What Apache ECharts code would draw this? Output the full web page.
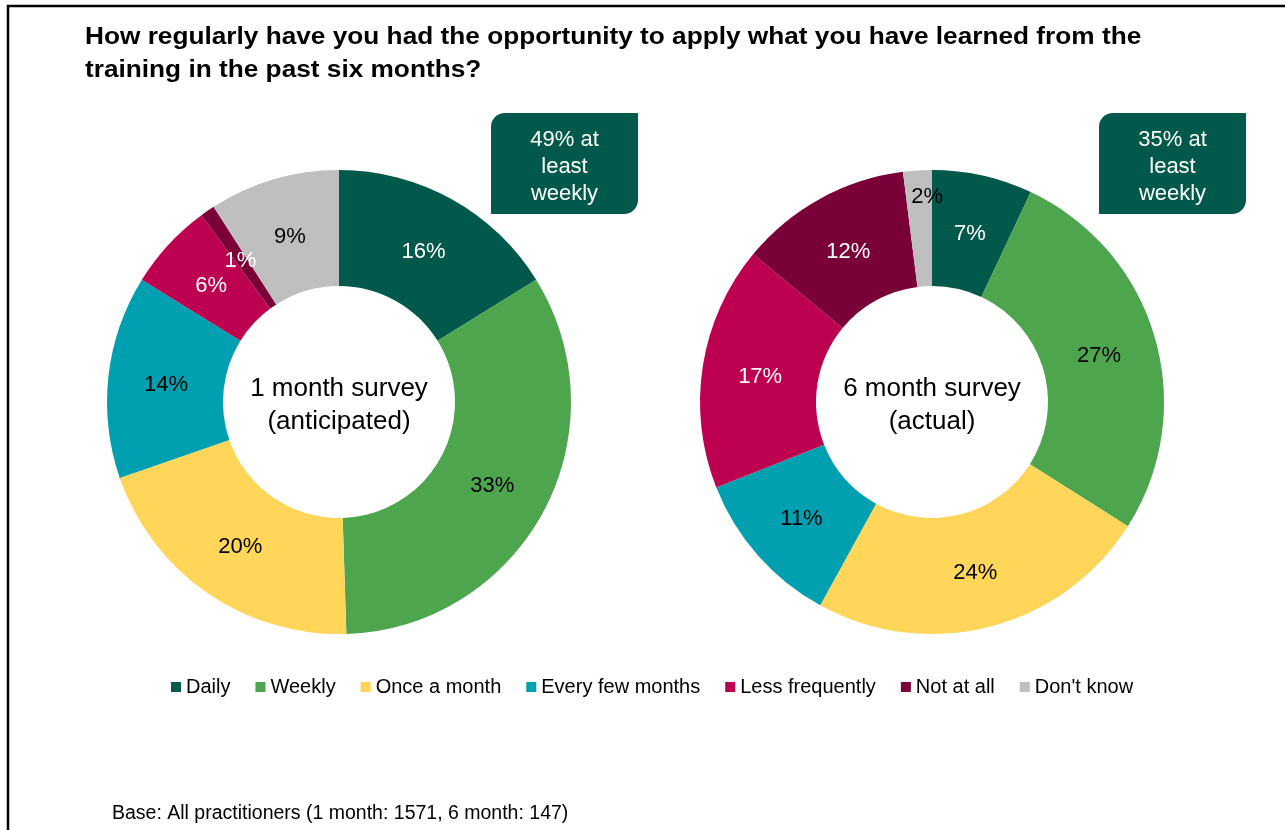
<!DOCTYPE html>
<html>
<head>
<meta charset="utf-8">
<script src="https://cdn.jsdelivr.net/npm/echarts@6/dist/echarts.min.js"></script>
<style>
  html, body { margin: 0; padding: 0; background: #fff; }
  #chart { width: 1285px; height: 830px; }
</style>
</head>
<body>
<div id="chart"></div>
<script>
// Response categories (shared by both surveys)
const categories = ['Daily', 'Weekly', 'Once a month', 'Every few months', 'Less frequently', 'Not at all', "Don't know"];

// Percent of practitioners per category
const oneMonthValues = [16, 33, 20, 14, 6, 1, 9];
const sixMonthValues = [7, 27, 24, 11, 17, 12, 2];

// Centre labels and the "at least weekly" call-outs
const surveyNames = ['1 month survey\n(anticipated)', '6 month survey\n(actual)'];
const calloutTexts = ['49% at\nleast\nweekly', '35% at\nleast\nweekly'];

const titleText = 'How regularly have you had the opportunity to apply what you have learned from the\ntraining in the past six months?';
const baseText = 'Base: All practitioners (1 month: 1571, 6 month: 147)';

// Palette
const sliceColors = ['#00594A', '#4DA64D', '#FFD55A', '#00A0B0', '#BE0050', '#7A0038', '#BFBFBF'];
const labelColors = ['#ffffff', '#000000', '#000000', '#000000', '#ffffff', '#ffffff', '#000000'];
const calloutColor = '#00594A';
const FONT = 'Liberation Sans, Arial, sans-serif';

const CY = 402;
const R_IN = 116;
const R_OUT = 232;

function buildData(values) {
  return values.map((v, i) => ({
    name: categories[i],
    value: v,
    itemStyle: { color: sliceColors[i] },
    label: { color: labelColors[i] }
  }));
}

// Pull labels slightly toward the hole; small slices can get an extra nudge
function donut(values, cx, nudges) {
  return {
    type: 'pie',
    center: [cx, CY],
    radius: [R_IN, R_OUT],
    startAngle: 90,
    clockwise: true,
    avoidLabelOverlap: false,
    silent: true,
    animation: false,
    label: {
      show: true,
      position: 'inside',
      formatter: '{c}%',
      fontFamily: FONT,
      fontSize: 22
    },
    labelLine: { show: false },
    labelLayout: function (params) {
      const r = params.labelRect;
      const lx = r.x + r.width / 2 - cx;
      const ly = r.y + r.height / 2 - CY;
      const d = Math.sqrt(lx * lx + ly * ly) || 1;
      const extra = (nudges && nudges[params.dataIndex]) || [0, 0];
      return {
        dx: -3 * lx / d + extra[0],
        dy: -3 * ly / d + 2 + extra[1]
      };
    },
    emphasis: { disabled: true },
    data: buildData(values)
  };
}

function callout(x, text) {
  return {
    type: 'group',
    left: x,
    top: 113,
    children: [
      {
        type: 'rect',
        shape: { x: 0, y: 0, width: 147, height: 101, r: [14, 0, 14, 0] },
        style: { fill: calloutColor }
      },
      {
        type: 'text',
        x: 73.5,
        y: 54,
        style: {
          text: text,
          fill: '#ffffff',
          font: '22px ' + FONT,
          align: 'center',
          verticalAlign: 'middle',
          lineHeight: 27
        }
      }
    ]
  };
}

function centreText(x, text) {
  return {
    type: 'text',
    x: x,
    y: 405,
    style: {
      text: text,
      fill: '#000000',
      font: '26px ' + FONT,
      align: 'center',
      verticalAlign: 'middle',
      lineHeight: 33
    }
  };
}

const chart = echarts.init(document.getElementById('chart'), null, { renderer: 'canvas' });

chart.setOption({
  animation: false,
  backgroundColor: '#ffffff',
  legend: {
    data: categories,
    left: 166,
    top: 672,
    icon: 'rect',
    itemWidth: 10,
    itemHeight: 10,
    itemGap: 25,
    selectedMode: false,
    textStyle: { fontFamily: FONT, fontSize: 20, color: '#000000', padding: [0, 0, 0, 0] }
  },
  series: [
    donut(oneMonthValues, 339, null),
    donut(sixMonthValues, 932, { 6: [6, -33] })
  ],
  graphic: [
    {
      type: 'rect',
      shape: { x: 8, y: 6, width: 1320, height: 900 },
      style: { fill: 'none', stroke: '#000000', lineWidth: 2.5 },
      silent: true
    },
    {
      type: 'text',
      x: 85,
      y: 21,
      scaleX: 1.14,
      style: {
        text: titleText,
        fill: '#000000',
        font: 'bold 23px ' + FONT,
        verticalAlign: 'top',
        lineHeight: 33
      }
    },
    callout(491, calloutTexts[0]),
    callout(1099, calloutTexts[1]),
    centreText(339, surveyNames[0]),
    centreText(932, surveyNames[1]),
    {
      type: 'text',
      x: 112,
      y: 814,
      style: { text: baseText, fill: '#000000', font: '19.5px ' + FONT, verticalAlign: 'middle' }
    }
  ]
});
</script>
</body>
</html>
